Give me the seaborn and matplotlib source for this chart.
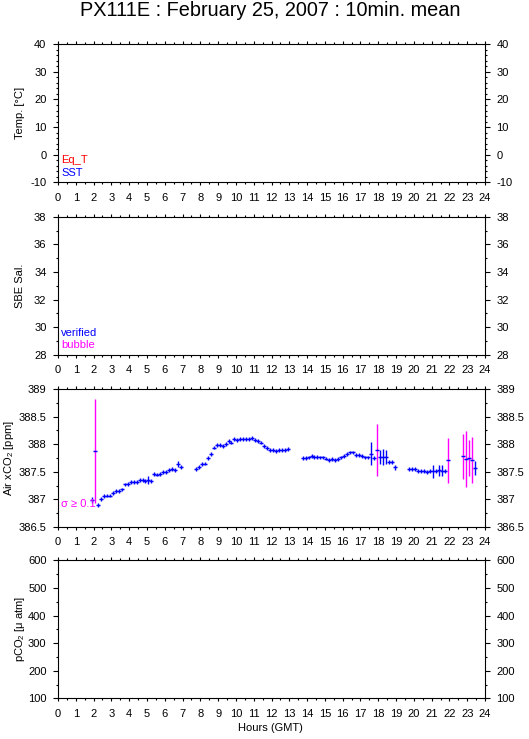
import pandas as pd
import seaborn as sns
import matplotlib.pyplot as plt
from matplotlib.ticker import MultipleLocator, FuncFormatter

# 10 min means of air xCO2, February 25 2007 (PX111E)
times = [
    "01:55", "02:05", "02:15", "02:25", "02:35", "02:45", "02:55", "03:05", "03:15", "03:25", "03:35",
    "03:45", "03:55", "04:05", "04:15", "04:25", "04:35", "04:45", "04:55", "05:05", "05:15", "05:25",
    "05:35", "05:45", "05:55", "06:05", "06:15", "06:25", "06:35", "06:45", "06:55",
    "07:45", "07:55", "08:05", "08:15", "08:25", "08:35", "08:45", "08:55", "09:05", "09:15", "09:25",
    "09:35", "09:45", "09:55", "10:05", "10:15", "10:25", "10:35", "10:45", "10:55", "11:05", "11:15",
    "11:25", "11:35", "11:45", "11:55", "12:05", "12:15", "12:25", "12:35", "12:45", "12:55",
    "13:45", "13:55", "14:05", "14:15", "14:25", "14:35", "14:45", "14:55", "15:05", "15:15", "15:25",
    "15:35", "15:45", "15:55", "16:05", "16:15", "16:25", "16:35", "16:45", "16:55", "17:05", "17:15",
    "17:25", "17:35", "17:45", "17:55", "18:05", "18:15", "18:25", "18:35", "18:45", "18:55",
    "19:45", "19:55", "20:05", "20:15", "20:25", "20:35", "20:45", "20:55", "21:05", "21:15", "21:25",
    "21:35", "21:45", "21:55",
    "22:45", "22:55", "23:05", "23:15", "23:25",
]
xco2 = [
    386.99, 387.88, 386.90, 387.00, 387.06, 387.07, 387.07, 387.11, 387.15, 387.15, 387.18,
    387.27, 387.28, 387.32, 387.32, 387.32, 387.35, 387.35, 387.34, 387.35, 387.34, 387.46,
    387.45, 387.46, 387.50, 387.50, 387.53, 387.55, 387.53, 387.64, 387.59,
    387.55, 387.59, 387.64, 387.65, 387.75, 387.82, 387.94, 387.98, 387.98, 387.97, 388.00,
    388.06, 388.03, 388.10, 388.08, 388.09, 388.09, 388.09, 388.09, 388.11, 388.07, 388.06,
    388.03, 387.96, 387.93, 387.89, 387.89, 387.88, 387.89, 387.90, 387.90, 387.91,
    387.75, 387.75, 387.76, 387.79, 387.77, 387.77, 387.76, 387.76, 387.74, 387.71, 387.73,
    387.71, 387.73, 387.76, 387.79, 387.83, 387.85, 387.85, 387.81, 387.81, 387.79, 387.76,
    387.76, 387.83, 387.75, 387.89, 387.77, 387.77, 387.77, 387.68, 387.67, 387.58,
    387.55, 387.55, 387.55, 387.52, 387.52, 387.51, 387.49, 387.51, 387.51, 387.52, 387.53,
    387.52, 387.51, 387.71,
    387.78, 387.73, 387.75, 387.71, 387.57,
]
sd = [
    0.06, 0.94, 0.04, 0.035, 0.035, 0.035, 0.035, 0.035, 0.035, 0.035, 0.035,
    0.035, 0.035, 0.035, 0.035, 0.035, 0.035, 0.035, 0.035, 0.07, 0.035, 0.035,
    0.035, 0.035, 0.035, 0.035, 0.035, 0.035, 0.035, 0.05, 0.035,
    0.035, 0.035, 0.035, 0.035, 0.035, 0.035, 0.035, 0.035, 0.035, 0.035, 0.04,
    0.035, 0.035, 0.035, 0.035, 0.035, 0.035, 0.035, 0.035, 0.035, 0.035, 0.035,
    0.035, 0.035, 0.035, 0.035, 0.035, 0.035, 0.035, 0.04, 0.035, 0.035,
    0.035, 0.035, 0.035, 0.035, 0.035, 0.035, 0.035, 0.035, 0.035, 0.035, 0.035,
    0.035, 0.035, 0.035, 0.035, 0.035, 0.035, 0.035, 0.035, 0.035, 0.035, 0.035,
    0.035, 0.21, 0.035, 0.47, 0.13, 0.15, 0.12, 0.035, 0.035, 0.05,
    0.035, 0.035, 0.04, 0.035, 0.035, 0.035, 0.035, 0.035, 0.12, 0.035, 0.10,
    0.10, 0.035, 0.41,
    0.41, 0.51, 0.32, 0.42, 0.13,
]
# 1 = sigma >= 0.1 flag
flag = [0] * 114
for i in [1, 88, 108, 109, 110, 111, 112]:
    flag[i] = 1

panel_labels = ["Temp. [°C]", "SBE Sal.", r"Air $x$CO$_2$ [ppm]", r"$p$CO$_2$ [μ atm]"]
ylims = [(-10, 40), (28, 38), (386.5, 389), (100, 600)]
ymajor = [10, 2, 0.5, 100]
yminor = [2, 1, 0.25, 50]

df = pd.DataFrame({"time": times, "xco2": xco2, "sd": sd, "flag": flag})
hm = df["time"].str.split(":", expand=True).astype(int)
df["hour"] = hm[0] + hm[1] / 60

sns.set_theme(style="ticks")
plt.rcParams['font.family'] = ['Liberation Sans', 'DejaVu Sans']
plt.rcParams['mathtext.fontset'] = 'custom'
plt.rcParams['mathtext.rm'] = 'Liberation Sans'
plt.rcParams['mathtext.it'] = 'Liberation Sans:italic'
plt.rcParams['mathtext.default'] = 'regular'
for k in ['text.color', 'axes.labelcolor', 'xtick.color', 'ytick.color', 'axes.edgecolor']:
    plt.rcParams[k] = 'black'

W, H = 529, 739
fig = plt.figure(figsize=(W / 100, H / 100), dpi=100)
fig.patch.set_facecolor("white")

tops = [44.3, 216.7, 389, 560.3]
lab_x = [20, 20, 9, 19.7]
axes = []
for i in range(4):
    ax = fig.add_axes([58 / W, 1 - (tops[i] + 138) / H, 427 / W, 138 / H])
    ax.set_xlim(0, 24)
    ax.set_ylim(*ylims[i])
    ax.xaxis.set_major_locator(MultipleLocator(1))
    ax.xaxis.set_minor_locator(MultipleLocator(0.5))
    ax.yaxis.set_major_locator(MultipleLocator(ymajor[i]))
    ax.yaxis.set_minor_locator(MultipleLocator(yminor[i]))
    ax.yaxis.set_major_formatter(FuncFormatter(lambda v, p: f"{v:g}"))
    ax.tick_params(which='both', direction='out', top=True, right=True, labelright=True,
                   labelsize=8, width=0.8, colors='black')
    ax.tick_params(axis='x', which='major', length=2.4, pad=5)
    ax.tick_params(axis='x', which='minor', length=1.2)
    ax.tick_params(axis='y', which='major', length=3.8, pad=4.5)
    ax.tick_params(axis='y', which='minor', length=1.4)
    for s in ax.spines.values():
        s.set_linewidth(0.8)
        s.set_color('black')
    ax.set_facecolor('white')
    fig.text(lab_x[i] / W, 1 - (tops[i] + 69) / H, panel_labels[i], rotation=90,
             ha='center', va='center', fontsize=8)
    axes.append(ax)

# Air xCO2 panel
ax = axes[2]
for f, c in [(0, "#0000ff"), (1, "#ff00ff")]:
    sub = df[df["flag"] == f]
    ax.errorbar(sub["hour"], sub["xco2"], yerr=sub["sd"], fmt='none', ecolor=c,
                elinewidth=1.0, capsize=0)
sns.scatterplot(data=df, x="hour", y="xco2", marker="_", s=11, color="#0000ff",
                linewidth=1.05, ax=ax, legend=False, zorder=5)
ax.set_xlabel("")
ax.set_ylabel("")

# in-panel labels
fig.text(61 / W, 1 - 163 / H, "Eq_T", color="#ff0000", fontsize=8, va='baseline')
fig.text(61 / W, 1 - 176 / H, "SST", color="#0000ff", fontsize=8, va='baseline')
fig.text(61 / W, 1 - 335.5 / H, "verified", color="#0000ff", fontsize=8, va='baseline')
fig.text(61 / W, 1 - 348.5 / H, "bubble", color="#ff00ff", fontsize=8, va='baseline')
fig.text(61 / W, 1 - 507 / H, "σ ≥ 0.1", color="#ff00ff", fontsize=8, va='baseline')

fig.text(270 / W, 1 - 16.2 / H, "PX111E : February 25, 2007 : 10min. mean",
         ha='center', va='baseline', fontsize=14.3)
fig.text(270 / W, 1 - 731 / H, "Hours (GMT)", ha='center', va='baseline', fontsize=8)

fig.savefig("out.png", dpi=100)
